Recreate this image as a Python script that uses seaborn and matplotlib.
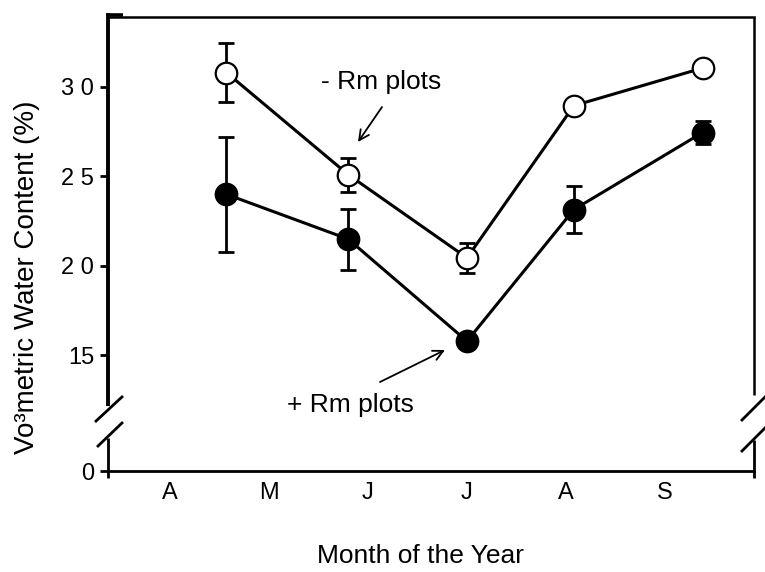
import numpy as np
import pandas as pd
import matplotlib
matplotlib.use("Agg")
import matplotlib.pyplot as plt
import seaborn as sns

# ---- data ----
months = ["A", "M", "J", "J", "A", "S"]
month_pos = [0, 1, 2, 3, 4, 5]
sample_x = [0.57, 1.80, 3.00, 4.08, 5.38]
minus_rm = [30.8, 25.1, 20.45, 28.95, 31.05]
minus_err = [1.65, 0.95, 0.85, 0.3, 0.4]
plus_rm = [24.0, 21.5, 15.8, 23.15, 27.45]
plus_err = [3.2, 1.7, 0.3, 1.3, 0.65]
ytick_vals = [15, 20, 25, 30]
ytick_labels = ["15", "2 0", "2 5", "3 0"]
zero_pos = 8.55  # where the broken axis shows 0

sns.set_style("white")
plt.rcParams["font.family"] = ["Liberation Sans", "DejaVu Sans"]
plt.rcParams.update({"text.color": "black", "axes.labelcolor": "black",
                     "xtick.color": "black", "ytick.color": "black"})

W, H = 765, 572
fig = plt.figure(figsize=(W / 100, H / 100), dpi=100)
L, R, T, B = 108, 754, 17, 471
ax = fig.add_axes([L / W, 1 - B / H, (R - L) / W, (B - T) / H])

df = pd.DataFrame({
    "x": sample_x * 2,
    "y": minus_rm + plus_rm,
    "err": minus_err + plus_err,
    "grp": ["- Rm"] * 5 + ["+ Rm"] * 5,
})

for grp, fc in [("- Rm", "white"), ("+ Rm", "black")]:
    d = df[df.grp == grp]
    ax.errorbar(d.x, d.y, yerr=d.err, fmt="none", ecolor="black",
                elinewidth=2.0, capsize=5.5, capthick=2.0, zorder=2)
    sns.lineplot(data=d, x="x", y="y", ax=ax, color="black", linewidth=2.2,
                 marker="o", markersize=15.5, markerfacecolor=fc,
                 markeredgecolor="black", markeredgewidth=1.6, zorder=3,
                 legend=False)

ax.set_xlim(-0.626, 5.899)
ax.set_ylim(zero_pos, 33.9)
ax.set_xticks(month_pos)
ax.set_xticklabels(months, fontsize=17)
ax.set_yticks([zero_pos] + ytick_vals)
ax.set_yticklabels(["0"] + ytick_labels, fontsize=17)
ax.tick_params(axis="x", length=0, pad=8)
ax.tick_params(axis="y", direction="out", length=6, width=2, pad=4, left=True)
ax.set_xlabel("")
ax.set_ylabel("")
fig.text(420 / W, 1 - 556 / H, "Month of the Year", fontsize=19,
         ha="center", va="center")
fig.text(27 / W, 1 - 277 / H, "Vo\u00b3metric Water Content (%)", fontsize=20,
         ha="center", va="center", rotation=90)

# spines: broken left / right
for s in ["left", "right"]:
    ax.spines[s].set_visible(False)
ax.spines["top"].set_linewidth(1.8)
ax.spines["bottom"].set_linewidth(2.0)
ax.spines["top"].set_color("black")
ax.spines["bottom"].set_color("black")

def px(xp, yp):
    return (xp - L) / (R - L), (B - yp) / (B - T)

def seg(p0, p1, lw):
    a, b = px(*p0), px(*p1)
    ax.plot([a[0], b[0]], [a[1], b[1]], transform=ax.transAxes, color="black",
            lw=lw, clip_on=False, solid_capstyle="butt", zorder=5)

# left broken spine
seg((108, 13), (108, 406), 2.8)
seg((107, 14.5), (123, 14.5), 2.6)
seg((108, 438), (108, 478), 2.0)
seg((95, 422), (123, 396), 2.0)
seg((97, 447), (123, 422), 2.0)
# right broken spine
seg((754, 17), (754, 395), 1.8)
seg((754, 440), (754, 478), 2.0)
seg((741, 421), (766, 396), 2.0)
seg((741, 452), (766, 427), 2.0)

# annotations
fig.text(381 / W, 1 - 82 / H, "- Rm plots", fontsize=19,
         ha="center", va="center")
ax.annotate("", xy=px(358, 142), xycoords="axes fraction",
            xytext=px(382, 107), textcoords="axes fraction",
            arrowprops=dict(arrowstyle="->", color="black", lw=1.3,
                            shrinkA=0, shrinkB=0, mutation_scale=18))
ax.annotate("", xy=px(445, 350), xycoords="axes fraction",
            xytext=px(380, 382), textcoords="axes fraction",
            arrowprops=dict(arrowstyle="->", color="black", lw=1.3,
                            shrinkA=0, shrinkB=0, mutation_scale=18))
fig.text(350 / W, 1 - 405 / H, "+ Rm plots", fontsize=19,
         ha="center", va="center")

fig.savefig("out.png", dpi=100, facecolor="white")
